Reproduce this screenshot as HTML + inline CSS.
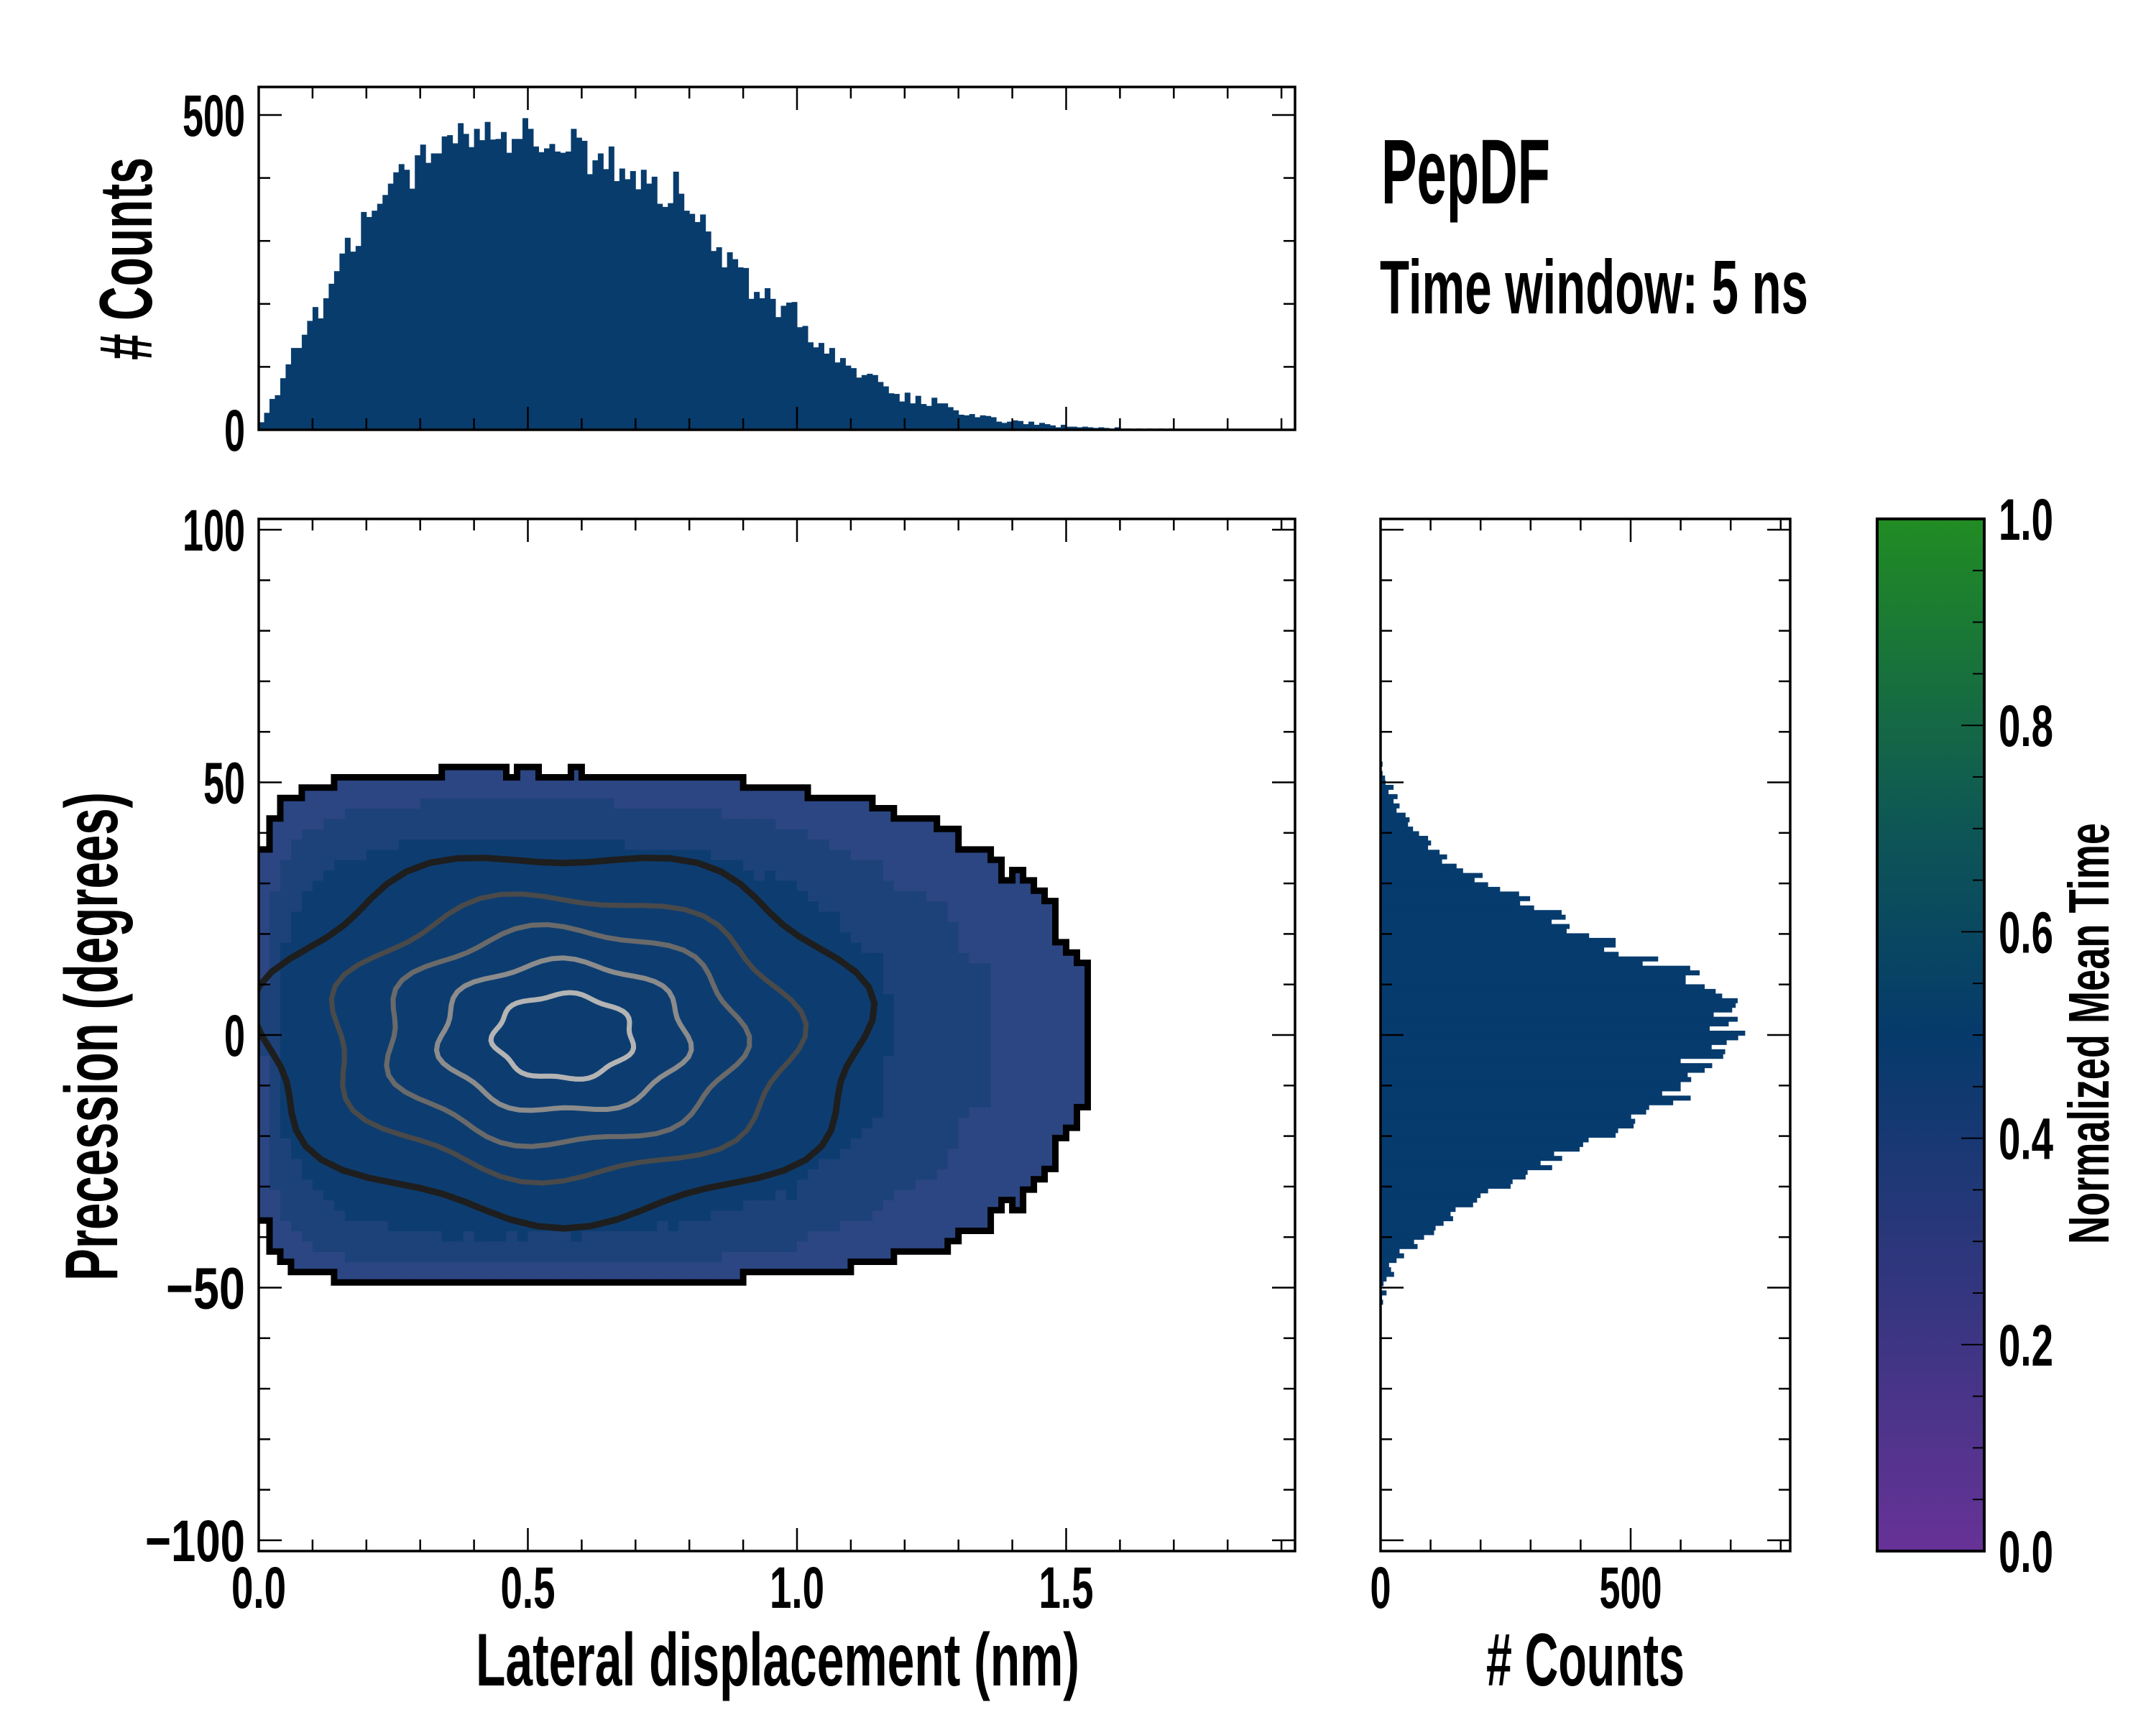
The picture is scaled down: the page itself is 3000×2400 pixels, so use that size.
<!DOCTYPE html>
<html><head><meta charset="utf-8"><style>
html,body{margin:0;padding:0;background:#fff}
svg{display:block}
text{font-family:"Liberation Sans Narrow","Liberation Sans",sans-serif;font-weight:bold;fill:#000}
</style></head><body>
<svg id="chart" xmlns="http://www.w3.org/2000/svg" width="3000" height="2400" viewBox="0 0 3000 2400">
<defs>
<linearGradient id="cbgrad" x1="0" y1="1" x2="0" y2="0">
<stop offset="0" stop-color="#673297"/>
<stop offset="0.25" stop-color="#34367f"/>
<stop offset="0.5" stop-color="#053a6b"/>
<stop offset="0.7" stop-color="#0e5656"/>
<stop offset="1" stop-color="#218c23"/>
</linearGradient>
<clipPath id="mainclip"><rect x="360" y="722" width="1442" height="1436"/></clipPath>
</defs>
<g id="heat" clip-path="url(#mainclip)"></g>
<g id="edges" clip-path="url(#mainclip)"></g>
<g id="contours" clip-path="url(#mainclip)"></g>
<g id="tophist"></g>
<g id="righthist"></g>
<rect x="2612" y="722" width="149" height="1436" fill="url(#cbgrad)" stroke="#000" stroke-width="4"/>
<g id="axes"></g>
<text x="1922" y="283" font-size="128" textLength="235" lengthAdjust="spacingAndGlyphs">PepDF</text>
<text x="1920" y="436" font-size="106" textLength="596" lengthAdjust="spacingAndGlyphs">Time window: 5 ns</text>
<text x="662" y="2345" font-size="104" textLength="840" lengthAdjust="spacingAndGlyphs">Lateral displacement (nm)</text>
<text x="2068" y="2345" font-size="104" textLength="276" lengthAdjust="spacingAndGlyphs"># Counts</text>
<text transform="translate(163,1442) rotate(-90)" x="-340" y="0" font-size="104" textLength="680" lengthAdjust="spacingAndGlyphs">Precession (degrees)</text>
<text transform="translate(211,360) rotate(-90)" x="-141" y="0" font-size="104" textLength="282" lengthAdjust="spacingAndGlyphs"># Counts</text>
<text transform="translate(2934,1438) rotate(-90)" x="-293" y="0" font-size="80" textLength="586" lengthAdjust="spacingAndGlyphs">Normalized Mean Time</text>
</svg>
<script>
// top histogram counts, 0.01 nm bins starting at 0
const topCounts = [12,27,49,55,82,104,130,130,151,173,195,177,209,232,252,280,305,283,292,346,338,348,359,373,391,409,422,413,383,436,453,424,439,439,466,468,455,487,470,449,478,460,489,461,462,473,440,462,462,495,478,450,441,447,454,442,440,442,478,464,459,406,428,439,414,450,395,415,398,411,382,413,391,402,359,354,360,410,375,348,343,330,342,315,284,290,258,282,271,258,257,208,219,209,225,208,179,197,202,203,163,165,139,131,138,121,130,107,114,102,98,83,87,89,87,76,69,58,57,45,59,42,54,41,38,51,42,42,36,31,24,23,25,20,23,22,20,13,11,13,15,14,9,13,8,11,9,7,4,8,5,5,4,5,4,3,4,3,2,4,2,2,1,2,1,2,1,2,1,2,0,1,0,0,1,0,1];
// right histogram counts, bins descending from 54.1 deg
const rightCounts = [4,2,4,9,10,26,16,34,26,38,32,50,58,55,65,77,95,101,95,118,133,123,152,165,204,188,215,239,277,299,279,307,362,370,342,378,372,417,470,470,447,476,555,524,619,638,610,610,648,670,683,714,710,703,666,714,696,658,729,715,692,662,689,685,600,663,648,614,621,600,600,563,620,585,537,531,501,509,506,475,470,416,405,398,347,363,320,343,294,290,264,260,215,200,193,185,150,140,145,126,110,107,87,67,74,38,47,32,17,21,27,12,6,2,12,3,5];
const xTicks = [0, 0.5, 1.0, 1.5];
const xTickLabels = ["0.0", "0.5", "1.0", "1.5"];
const yTicks = [-100, -50, 0, 50, 100];
const yTickLabels = ["\u2212100", "\u221250", "0", "50", "100"];
const countTicks = [0, 500];
const countTickLabels = ["0", "500"];
const cbTicks = [0, 0.2, 0.4, 0.6, 0.8, 1.0];
const cbTickLabels = ["0.0", "0.2", "0.4", "0.6", "0.8", "1.0"];
// contour radii in units of marginal standard deviations
const contourSigmas = [1.95, 1.5, 1.15, 0.8, 0.45];
const contourColors = ["#1e1e1e", "#4a4a4a", "#6a6a6a", "#8c8c8c", "#b4b4b4"];

const NS = "http://www.w3.org/2000/svg";
const TOP_BIN = 0.01, RIGHT_START = 54.1, RIGHT_W = 0.918;
const X = v => 360 + v * 749;
const Y = d => 1440 - d * 7.03;
const HY = c => 598 - c * 0.876;
const RX = c => 1921 + c * 0.696;
const CY = t => 2158 - t * 1436;
function mk(tag, attrs, parent) { const e = document.createElementNS(NS, tag); for (const k in attrs) e.setAttribute(k, attrs[k]); parent.appendChild(e); return e; }
function tw(s) { let w = 0; for (const ch of s) w += ch === "." ? 18 : (ch === "\u2212" ? 52 : 29); return w; }

// top histogram
const th = document.getElementById("tophist");
topCounts.forEach((c, i) => {
  if (c <= 0) return;
  const r = mk("rect", { x: X(i * TOP_BIN), y: HY(c), width: X(TOP_BIN) - X(0) + 0.5, height: HY(0) - HY(c), fill: "#083c6c" }, th);
  
  
});
// right histogram
const rh = document.getElementById("righthist");
rightCounts.forEach((c, i) => {
  const d1 = RIGHT_START - i * RIGHT_W, d0 = d1 - RIGHT_W;
  const r = mk("rect", { x: RX(0), y: Y(d1), width: RX(c) - RX(0), height: Y(d0) - Y(d1) + 0.5, fill: "#063b6e" }, rh);
  
  
});

// heatmap from product of marginals
const total = topCounts.reduce((a, b) => a + b, 0);
const CW = 0.02, CH = 2.04, NX = 97, NY = 100;
const colX = [];
for (let i = 0; i < NX; i++) colX.push((topCounts[2 * i] || 0) + (topCounts[2 * i + 1] || 0));
const rowRaw = new Array(NY).fill(0);
for (let j = 0; j < NY; j++) {
  const yc = -102 + (j + 0.5) * CH;
  const k = Math.floor((RIGHT_START - yc) / RIGHT_W);
  rowRaw[j] = (k >= 0 && k < rightCounts.length) ? rightCounts[k] * (CH / RIGHT_W) : 0;
}
const rowY = rowRaw.map((v, j) => ((rowRaw[j - 1] || 0) + v * 2 + (rowRaw[j + 1] || 0)) / 4);
const present = [];
const heat = document.getElementById("heat");
for (let i = 0; i < NX; i++) {
  present.push([]);
  for (let j = 0; j < NY; j++) {
    const v = colX[i] * rowY[j] / total;
    const on = v >= 0.3;
    present[i].push(on);
    if (!on) continue;
    const fill = v < 1.5 ? "#2c4683" : (v < 5 ? "#1d4279" : "#0d3d70");
    const r = mk("rect", { x: X(i * CW), y: Y(-102 + (j + 1) * CH), width: X(CW) - X(0) + 0.6, height: CH * 7.03 + 0.6, fill: fill }, heat);
    
    
  }
}
// outer boundary: edges between filled and empty cells
const eg = document.getElementById("edges");
let ed = "";
const P = (i, j) => (i >= 0 && i < NX && j >= 0 && j < NY) ? present[i][j] : false;
for (let i = 0; i < NX; i++) for (let j = 0; j < NY; j++) {
  if (!present[i][j]) continue;
  const x0 = X(i * CW), x1 = X((i + 1) * CW), yT = Y(-102 + (j + 1) * CH), yB = Y(-102 + j * CH);
  if (!P(i, j + 1)) ed += `M${x0.toFixed(1)},${yT.toFixed(1)}H${x1.toFixed(1)}`;
  if (!P(i, j - 1)) ed += `M${x0.toFixed(1)},${yB.toFixed(1)}H${x1.toFixed(1)}`;
  if (!P(i + 1, j)) ed += `M${x1.toFixed(1)},${yT.toFixed(1)}V${yB.toFixed(1)}`;
  if (i > 0 && !P(i - 1, j)) ed += `M${x0.toFixed(1)},${yT.toFixed(1)}V${yB.toFixed(1)}`;
}
const e1 = mk("path", { d: ed, fill: "none", stroke: "#000", "stroke-width": 9, "stroke-linecap": "square" }, eg);



// contour ellipses from marginal moments
let mx = 0, sx = 0;
topCounts.forEach((c, i) => { mx += c * (i + 0.5) * TOP_BIN; });
mx /= total;
topCounts.forEach((c, i) => { sx += c * Math.pow((i + 0.5) * TOP_BIN - mx, 2); });
sx = Math.sqrt(sx / total);
const totR = rightCounts.reduce((a, b) => a + b, 0);
let my = 0, sy = 0;
rightCounts.forEach((c, i) => { my += c * (RIGHT_START - (i + 0.5) * RIGHT_W); });
my /= totR;
rightCounts.forEach((c, i) => { sy += c * Math.pow(RIGHT_START - (i + 0.5) * RIGHT_W - my, 2); });
sy = Math.sqrt(sy / totR);
const cg = document.getElementById("contours");
contourSigmas.forEach((k, n) => {
  const pts = [];
  for (let a = 0; a < 72; a++) {
    const t = a / 72 * 2 * Math.PI;
    const wob = 1 + 0.05 * Math.sin(7 * t + n);
    pts.push(X(mx + k * sx * wob * Math.cos(t)).toFixed(1) + "," + Y(my + k * sy * wob * Math.sin(t)).toFixed(1));
  }
  const p = mk("polygon", { points: pts.join(" "), fill: "none", stroke: contourColors[n], "stroke-width": n === 0 ? 9 : 7, "stroke-linejoin": "round" }, cg);
  
  
});

// axes frames and ticks
const ax = document.getElementById("axes");
function line(x1, y1, x2, y2, w) { const l = mk("line", { x1, y1, x2, y2, stroke: "#000", "stroke-width": w || 2.5 }, ax);   }
function frame(x, y, w, h, name) { const r = mk("rect", { x, y, width: w, height: h, fill: "none", stroke: "#000", "stroke-width": 3.5 }, ax);   }
function label(txt, x, y, anchor, name) {
  const t = mk("text", { x, y, "font-size": 82, "text-anchor": anchor, textLength: tw(txt), lengthAdjust: "spacingAndGlyphs" }, ax);
  t.textContent = txt;
  
  
}
frame(360, 722, 1442, 1436, "main-plot-frame");
frame(360, 121, 1442, 477, "top-hist-frame");
frame(1921, 722, 570, 1436, "right-hist-frame");
for (let k = 0; k <= 19; k++) {
  const v = k * 0.1, xx = X(v), L = k % 5 === 0 ? 32 : 16;
  line(xx, 2158, xx, 2158 - L); line(xx, 722, xx, 722 + L);
  line(xx, 598, xx, 598 - L); line(xx, 121, xx, 121 + L);
}
xTicks.forEach((v, i) => label(xTickLabels[i], X(v), 2237, "middle", "x-tick-label"));
for (let d = -100; d <= 100; d += 10) {
  const yy = Y(d), L = d % 50 === 0 ? 32 : 16;
  line(360, yy, 360 + L, yy); line(1802, yy, 1802 - L, yy);
  line(1921, yy, 1921 + L, yy); line(2491, yy, 2491 - L, yy);
}
yTicks.forEach((v, i) => label(yTickLabels[i], 341, Y(v) + 29, "end", "y-tick-label"));
for (let c = 0; c <= 500; c += 100) {
  const yy = HY(c), L = c % 500 === 0 ? 32 : 16;
  line(360, yy, 360 + L, yy); line(1802, yy, 1802 - L, yy);
}
countTicks.forEach((v, i) => label(countTickLabels[i], 341, HY(v) + 29, "end", "top-hist-tick-label"));
for (let c = 0; c <= 800; c += 100) {
  const xx = RX(c); if (xx > 2491) break; const L = c % 500 === 0 ? 32 : 16;
  line(xx, 2158, xx, 2158 - L); line(xx, 722, xx, 722 + L);
}
countTicks.forEach((v, i) => label(countTickLabels[i], RX(v), 2237, "middle", "right-hist-tick-label"));
for (let k = 0; k <= 20; k++) {
  const yy = CY(k * 0.05), L = k % 4 === 0 ? 32 : 16;
  line(2761, yy, 2761 - L, yy, 2);
}
cbTicks.forEach((v, i) => label(cbTickLabels[i], 2781, CY(v) + 29, "start", "colorbar-tick-label"));
</script>
</body></html>
